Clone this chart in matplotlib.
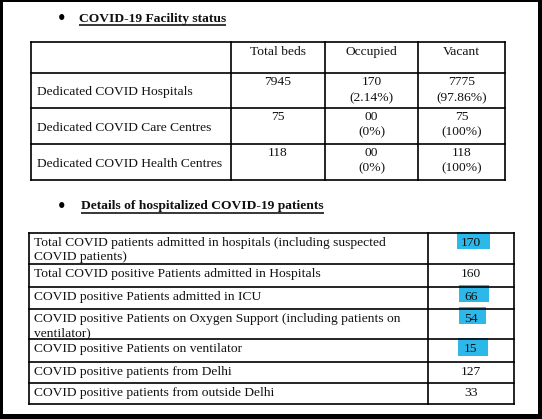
import matplotlib
matplotlib.use("Agg")
import matplotlib.pyplot as plt
from matplotlib.patches import Rectangle

plt.rcParams['font.family'] = ['Liberation Serif', 'DejaVu Serif']

# ---------------- data ----------------
title1 = "COVID-19 Facility status"
title2 = "Details of hospitalized COVID-19 patients"

t1_header = ["Total beds", "Occupied", "Vacant"]
t1_rows = ["Dedicated COVID Hospitals", "Dedicated COVID Care Centres",
           "Dedicated COVID Health Centres"]
t1_total = ["7945", "75", "118"]
t1_occupied = ["170\n(2.14%)", "00\n(0%)", "00\n(0%)"]
t1_vacant = ["7775\n(97.86%)", "75\n(100%)", "118\n(100%)"]

t2_labels = [
    "Total COVID patients admitted in hospitals (including suspected\nCOVID patients)",
    "Total COVID positive Patients admitted in Hospitals",
    "COVID positive Patients admitted in ICU",
    "COVID positive Patients on Oxygen Support (including patients on\nventilator)",
    "COVID positive Patients on ventilator",
    "COVID positive patients from Delhi",
    "COVID positive patients from outside Delhi",
]
t2_values = ["170", "160", "66", "54", "15", "127", "33"]
t2_highlight = [True, False, True, True, True, False, False]

# ---------------- layout ----------------
W, H = 542, 419
fig = plt.figure(figsize=(W / 100, H / 100), dpi=100)
ax = fig.add_axes([0, 0, 1, 1])
ax.set_xlim(0, W)
ax.set_ylim(H, 0)
ax.axis('off')

FS = 9.7
TFS = 9.7
LW = 1.2
HL = '#2DB8EA'
TXT = '#111111'

# outer frame
ax.add_patch(Rectangle((0, 0), W, 2.5, color='black', lw=0))
ax.add_patch(Rectangle((0, 0), 3, H, color='black', lw=0))
ax.add_patch(Rectangle((537.5, 0), 5, H, color='black', lw=0))
ax.add_patch(Rectangle((0, 413.5), W, 6, color='black', lw=0))


def put(x, y, s, ha='left', step=15.5, z=4, **kw):
    for k, line in enumerate(s.split('\n')):
        ax.text(x, y + k * step, line, fontsize=FS, ha=ha, va='center',
                color=TXT, zorder=z, **kw)


def heading(y, text, x0=79):
    ax.text(62, y, "\u2022", fontsize=FS + 1, ha='center', va='center',
            family=['DejaVu Sans'], fontweight='bold')
    t = ax.text(x0, y, text, fontsize=TFS, fontweight='bold',
                ha='left', va='center', color=TXT)
    fig.canvas.draw()
    bb = t.get_window_extent().transformed(ax.transData.inverted())
    ax.plot([bb.x0, bb.x1], [y + 6.5, y + 6.5], color='black', lw=1.1,
            solid_capstyle='butt')

# ---------- table 1 ----------
heading(19, title1, 79)
xs1 = [30.5, 231, 325, 418, 505]
ys1 = [42.5, 73.5, 108, 144, 180]
for x in xs1:
    ax.plot([x, x], [ys1[0], ys1[-1]], color='black', lw=LW, solid_capstyle='projecting')
for y in ys1:
    ax.plot([xs1[0], xs1[-1]], [y, y], color='black', lw=LW, solid_capstyle='projecting')

col_c = [(xs1[i] + xs1[i + 1]) / 2 for i in range(1, 4)]
for c, h in zip(col_c, t1_header):
    put(c, 52, h, ha='center')

for i, lab in enumerate(t1_rows):
    top, bot = ys1[i + 1], ys1[i + 2]
    put(37, (top + bot) / 2 + 1.5, lab)
    for c, vals in zip(col_c, [t1_total, t1_occupied, t1_vacant]):
        put(c, top + 8.5, vals[i], ha='center', step=16)

# ---------- table 2 ----------
heading(206, title2, 81)
xs2 = [28.5, 428, 514]
ys2 = [233, 264, 287, 309, 339, 362, 383, 404]

# highlights
hl_boxes = {0: (457, 490, 232, 249), 2: (459, 489, 285, 302),
            3: (459, 486, 307, 324), 4: (458, 488, 338, 356)}
for i, flag in enumerate(t2_highlight):
    if flag:
        x0, x1, y0, y1 = hl_boxes[i]
        ax.add_patch(Rectangle((x0, y0), x1 - x0, y1 - y0, color=HL, lw=0, zorder=1))

for x in xs2:
    ax.plot([x, x], [ys2[0], ys2[-1]], color='black', lw=LW, solid_capstyle='projecting', zorder=3)
for y in ys2:
    ax.plot([xs2[0], xs2[-1]], [y, y], color='black', lw=LW, solid_capstyle='projecting', zorder=3)

for i, (lab, val) in enumerate(zip(t2_labels, t2_values)):
    top = ys2[i]
    put(34, top + 10, lab, step=14)
    put(471, top + 10, val, ha='center')

fig.savefig("out.png", dpi=100, facecolor='white')
